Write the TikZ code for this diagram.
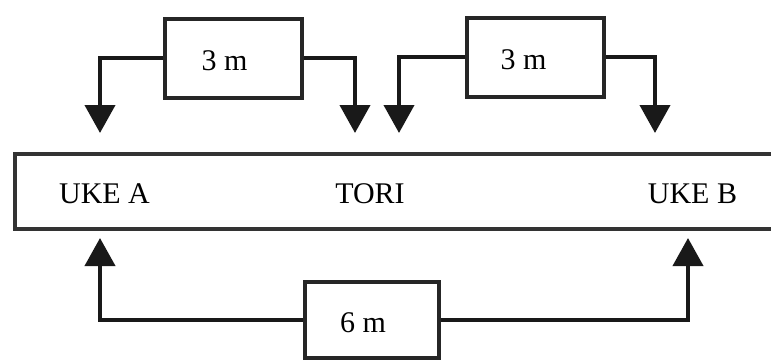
\documentclass[tikz,border=0pt]{standalone}
\usepackage{fontspec}
\setmainfont{Liberation Serif}
\usetikzlibrary{arrows.meta}
\begin{document}
\begin{tikzpicture}[x=1pt,y=-1pt,
  lbl/.style={font=\fontsize{30}{36}\selectfont, anchor=base, inner sep=0pt},
  distbox/.style={draw=black!85, line width=4pt, minimum width=137pt, minimum height=79pt, inner sep=0pt, fill=white},
  conn/.style={draw=black!90, line width=4pt, -{Triangle[width=30pt,length=28pt]}}]
\useasboundingbox (0,0) rectangle (771,359);
\clip (0,0) rectangle (771,359);
% mat
\node[draw=black!80, line width=4pt, minimum width=780pt, minimum height=75pt, inner sep=0pt, anchor=north west] (mat) at (13,152) {};
\node[lbl] (ukea) at (104.5,203) {UKE A};
\node[lbl] (tori) at (370,203) {TORI};
\node[lbl] (ukeb) at (692.5,203) {UKE B};
% distance boxes
\node[distbox, label={[lbl, anchor=center, xshift=-9pt, yshift=-3pt]center:3 m}] (b1) at (233.5,58) {};
\node[distbox, label={[lbl, anchor=center, xshift=-12pt, yshift=-3pt]center:3 m}] (b2) at (535.5,57) {};
\node[distbox, minimum width=134pt, minimum height=76pt, label={[lbl, anchor=center, xshift=-9pt, yshift=-3pt]center:6 m}] (b3) at (372,320) {};
% arrow tips
\coordinate (t1) at (100,133);
\coordinate (t2) at (355,133);
\coordinate (t3) at (399,133);
\coordinate (t4) at (655,133);
\coordinate (t5) at (100,238);
\coordinate (t6) at (688,238);
\draw[conn] (b1.west) -| (t1);
\draw[conn] (b1.east) -| (t2);
\draw[conn] (b2.west) -| (t3);
\draw[conn] (b2.east) -| (t4);
\draw[conn] (b3.west) -| (t5);
\draw[conn] (b3.east) -| (t6);
\end{tikzpicture}
\end{document}
